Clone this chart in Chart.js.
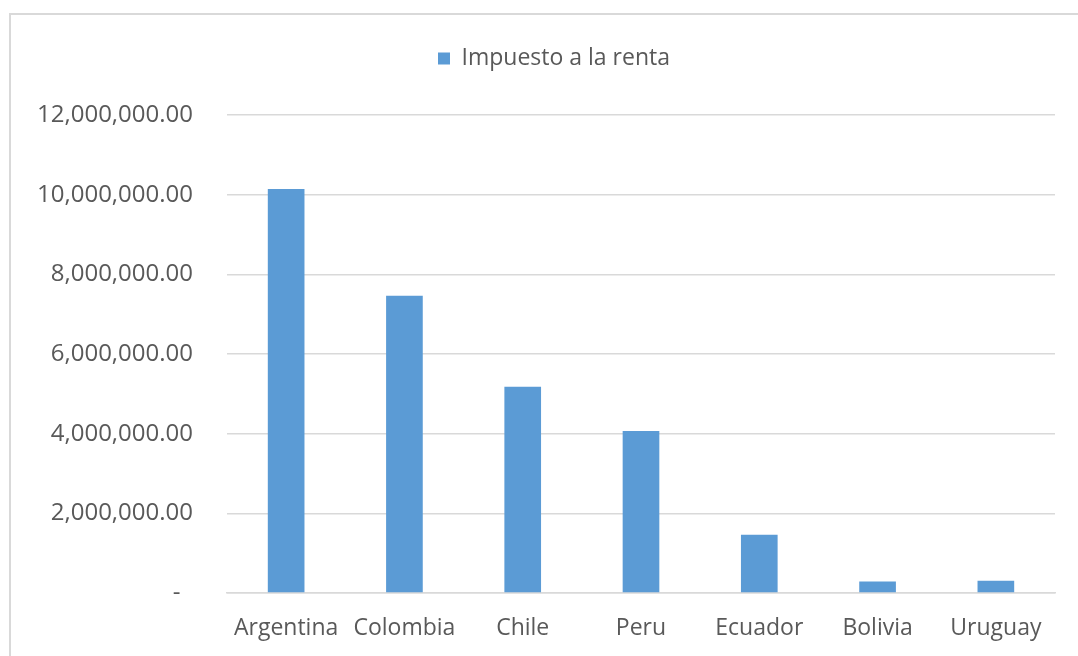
<!DOCTYPE html>
<html>
<head>
<meta charset="utf-8">
<title>Impuesto a la renta</title>
<script src="https://cdn.jsdelivr.net/npm/chart.js@4/dist/chart.umd.min.js"></script>
<style>
  html, body { margin: 0; padding: 0; background: #fff; overflow: hidden; }
  #wrap { position: relative; width: 1078px; height: 656px; }
  #frame {
    position: absolute; left: 9px; top: 13px; width: 1200px; height: 800px;
    border: 2px solid #d9d9d9; box-sizing: border-box; pointer-events: none;
  }
  #graphic { position: absolute; left: 0; top: 0; }
</style>
</head>
<body>
<div id="wrap">
  <div id="frame"></div>
  <canvas id="graphic" width="1078" height="656"></canvas>
</div>
<script>
const countries = ['Argentina', 'Colombia', 'Chile', 'Peru', 'Ecuador', 'Bolivia', 'Uruguay'];
const incomeTax = [10140000, 7460000, 5180000, 4070000, 1460000, 290000, 310000];
const seriesName = 'Impuesto a la renta';
const yTicks = [0, 2000000, 4000000, 6000000, 8000000, 10000000, 12000000];

const textColor = '#595959';
const barColor = '#5B9BD5';

// accounting style: zero shows as a dash
function formatAmount(value) {
  if (value === 0) return '-  ';
  return value.toLocaleString('en-US', { minimumFractionDigits: 2, maximumFractionDigits: 2 });
}

// legend sits centred over the whole frame, a bit above the plot
const legendShift = {
  id: 'legendShift',
  afterLayout(chart) {
    const lg = chart.legend;
    lg.left += 53;
    lg.top -= 35;
    lg.bottom -= 35;
  },
};

const ctx = document.querySelector('#graphic').getContext('2d');
const graphic = new Chart(ctx, {
  type: 'bar',
  data: {
    labels: countries,
    datasets: [{
      label: seriesName,
      data: incomeTax,
      backgroundColor: barColor,
      borderColor: barColor,
      barPercentage: 0.31,
      categoryPercentage: 1,
    }],
  },
  plugins: [legendShift],
  options: {
    responsive: false,
    devicePixelRatio: 1,
    animation: false,
    layout: {
      padding: { left: 0, right: 23, top: 62, bottom: 0 },
    },
    plugins: {
      tooltip: { enabled: false },
      legend: {
        position: 'top',
        align: 'center',
        labels: {
          color: textColor,
          font: { family: 'Open Sans', size: 23 },
          boxWidth: 12,
          boxHeight: 12,
          padding: 20,
        },
      },
    },
    scales: {
      x: {
        grid: { display: false, drawTicks: false },
        border: { display: true, color: '#d9d9d9', width: 1.5 },
        ticks: {
          color: textColor,
          font: { family: 'Open Sans', size: 23 },
          padding: 22,
          maxRotation: 0,
          autoSkip: false,
        },
        afterFit: (scale) => { scale.height = 63; },
      },
      y: {
        min: 0,
        max: 12000000,
        afterBuildTicks: (scale) => {
          scale.ticks = yTicks.map((v) => ({ value: v }));
        },
        grid: { color: '#d9d9d9', lineWidth: 1.5, drawTicks: false },
        border: { display: false },
        ticks: {
          color: textColor,
          font: { family: 'Open Sans', size: 24 },
          padding: 34,
          callback: (value) => formatAmount(value),
        },
        afterFit: (scale) => { scale.width = 227; },
      },
    },
  },
});
graphic.render();
</script>
</body>
</html>
